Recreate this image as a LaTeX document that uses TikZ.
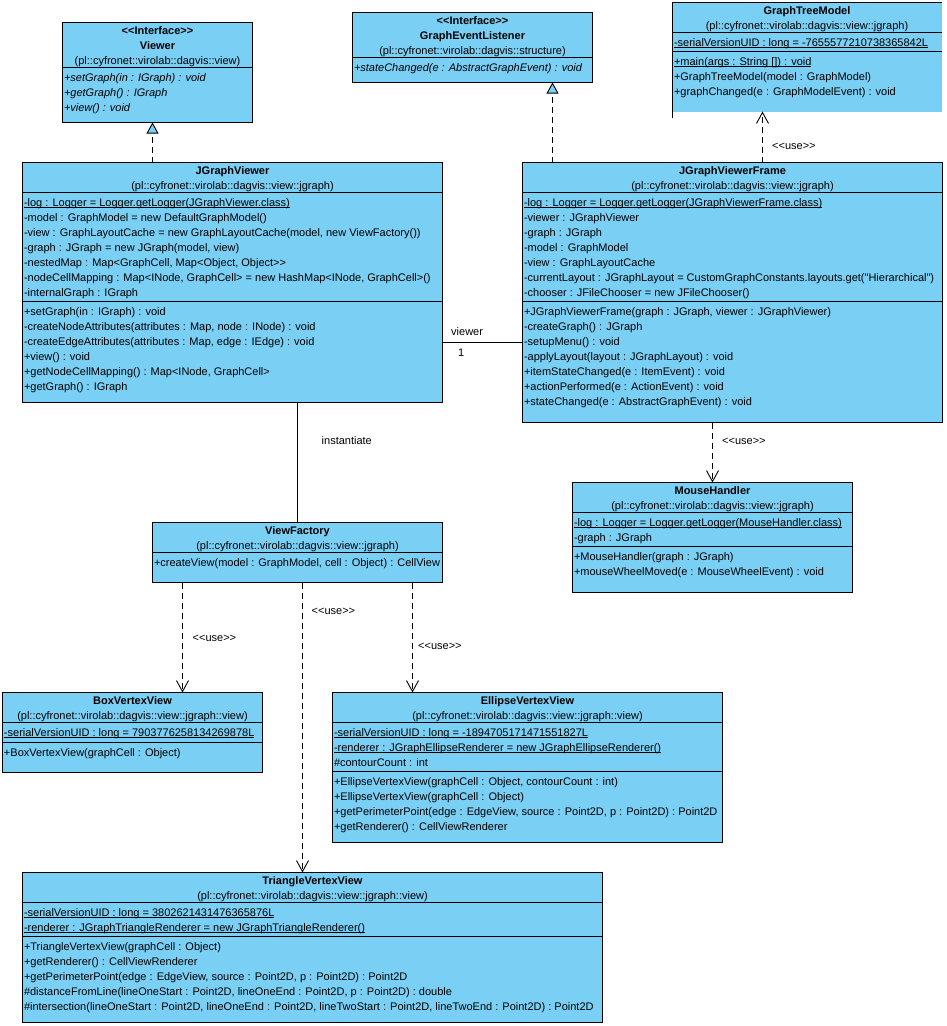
\documentclass[tikz,border=0pt]{standalone}
\usepackage{fontspec}
\setmainfont{Liberation Sans}[Ligatures={TeXOff,CommonOff}]
\usetikzlibrary{arrows.meta}
\definecolor{classblue}{RGB}{122,207,245}
\newcommand\ulx[1]{\setbox0=\hbox{#1}\rlap{\rule[-1.7pt]{\wd0}{0.75pt}}\box0}
\begin{document}
\begin{tikzpicture}[x=1pt,y=-1pt,
  every node/.style={font=\fontsize{11}{13}\selectfont},
  cbox/.style={draw=black, line width=1pt, fill=classblue, anchor=north west, inner sep=0pt, outer sep=0pt, rectangle},
  ln/.style={anchor=base west, inner sep=0pt, outer sep=0pt},
  hd/.style={anchor=base, inner sep=0pt, outer sep=0pt},
  sepl/.style={line width=1pt},
  dep/.style={line width=0.9pt, dash pattern=on 6pt off 4pt},
  real/.style={dep, -{Triangle[length=11pt,width=12pt,fill=classblue,line width=0.9pt]}},
  use/.style={dep, -{Straight Barb[length=11pt,width=12pt,line width=0.9pt]}},
  lbl/.style={anchor=base west, inner sep=0pt},
  solidc/.style={line width=1pt},
]
\useasboundingbox (0,0) rectangle (946,1026);

%% ---------------- Viewer
\node[cbox, minimum width=190pt, minimum height=100pt] (viewer) at (62.5,22.5) {};
\draw[sepl] (62.5,67.5) -- (252.5,67.5);
\node[hd] (viewer-st) at (157.5,34.5) {\textbf{<{}<Interface>{}>}};
\node[hd] (viewer-nm) at (157.5,49.5) {\textbf{Viewer}};
\node[hd] (viewer-pk) at (157.5,64.5) {(pl::cyfronet::virolab::dagvis::view)};
\node[ln] (viewer-o1) at (64,81.5) {\textit{+setGraph(in : IGraph) : void}};
\node[ln] (viewer-o2) at (64,96.5) {\textit{+getGraph() : IGraph}};
\node[ln] (viewer-o3) at (64,111.5) {\textit{+view() : void}};

%% ---------------- GraphEventListener
\node[cbox, minimum width=240pt, minimum height=70pt] (gel) at (352.5,12.5) {};
\draw[sepl] (352.5,57.5) -- (592.5,57.5);
\node[hd] (gel-st) at (472.5,24.5) {\textbf{<{}<Interface>{}>}};
\node[hd] (gel-nm) at (472.5,39.5) {\textbf{GraphEventListener}};
\node[hd] (gel-pk) at (472.5,54.5) {(pl::cyfronet::virolab::dagvis::structure)};
\node[ln] (gel-o1) at (354,71.5) {\textit{+stateChanged(e : AbstractGraphEvent) : void}};

%% ---------------- GraphTreeModel (cut at the border)
\node[cbox, draw=none, minimum width=269.5pt, minimum height=109pt] (gtm) at (672.5,2.5) {};
\draw[sepl] (672.5,118) -- (672.5,2.5) -- (942,2.5);
\draw[sepl] (672.5,32.5) -- (942,32.5);
\draw[sepl] (672.5,51) -- (942,51);
\node[hd] (gtm-nm) at (807,14.5) {\textbf{GraphTreeModel}};
\node[hd] (gtm-pk) at (807,29.5) {(pl::cyfronet::virolab::dagvis::view::jgraph)};
\node[ln] (gtm-a1) at (674,46.5) {\ulx{-serialVersionUID : long = -7655577210738365842L}};
\node[ln] (gtm-o1) at (674,65.5) {\ulx{+main(args : String []) : void}};
\node[ln] (gtm-o2) at (674,80.5) {+GraphTreeModel(model : GraphModel)};
\node[ln] (gtm-o3) at (674,95.5) {+graphChanged(e : GraphModelEvent) : void};

%% ---------------- JGraphViewer
\node[cbox, minimum width=420pt, minimum height=240pt] (jgv) at (22.5,162.5) {};
\draw[sepl] (22.5,192.5) -- (442.5,192.5);
\draw[sepl] (22.5,301) -- (442.5,301);
\node[hd] (jgv-nm) at (232.5,174.5) {\textbf{JGraphViewer}};
\node[hd] (jgv-pk) at (232.5,189.5) {(pl::cyfronet::virolab::dagvis::view::jgraph)};
\node[ln] (jgv-a1) at (24,206.5) {\ulx{-log : Logger = Logger.getLogger(JGraphViewer.class)}};
\node[ln] (jgv-a2) at (24,221.5) {-model : GraphModel = new DefaultGraphModel()};
\node[ln] (jgv-a3) at (24,236.5) {-view : GraphLayoutCache = new GraphLayoutCache(model, new ViewFactory())};
\node[ln] (jgv-a4) at (24,251.5) {-graph : JGraph = new JGraph(model, view)};
\node[ln] (jgv-a5) at (24,266.5) {-nestedMap : Map<GraphCell, Map<Object, Object>{}>};
\node[ln] (jgv-a6) at (24,281.5) {-nodeCellMapping : Map<INode, GraphCell> = new HashMap<INode, GraphCell>()};
\node[ln] (jgv-a7) at (24,296.5) {-internalGraph : IGraph};
\node[ln] (jgv-o1) at (24,315) {+setGraph(in : IGraph) : void};
\node[ln] (jgv-o2) at (24,330) {-createNodeAttributes(attributes : Map, node : INode) : void};
\node[ln] (jgv-o3) at (24,345) {-createEdgeAttributes(attributes : Map, edge : IEdge) : void};
\node[ln] (jgv-o4) at (24,360) {+view() : void};
\node[ln] (jgv-o5) at (24,375) {+getNodeCellMapping() : Map<INode, GraphCell>};
\node[ln] (jgv-o6) at (24,390) {+getGraph() : IGraph};

%% ---------------- JGraphViewerFrame
\node[cbox, minimum width=420pt, minimum height=260pt] (jgvf) at (522.5,162.5) {};
\draw[sepl] (522.5,192.5) -- (942.5,192.5);
\draw[sepl] (522.5,301) -- (942.5,301);
\node[hd] (jgvf-nm) at (732.5,174.5) {\textbf{JGraphViewerFrame}};
\node[hd] (jgvf-pk) at (732.5,189.5) {(pl::cyfronet::virolab::dagvis::view::jgraph)};
\node[ln] (jgvf-a1) at (524,206.5) {\ulx{-log : Logger = Logger.getLogger(JGraphViewerFrame.class)}};
\node[ln] (jgvf-a2) at (524,221.5) {-viewer : JGraphViewer};
\node[ln] (jgvf-a3) at (524,236.5) {-graph : JGraph};
\node[ln] (jgvf-a4) at (524,251.5) {-model : GraphModel};
\node[ln] (jgvf-a5) at (524,266.5) {-view : GraphLayoutCache};
\node[ln] (jgvf-a6) at (524,281.5) {-currentLayout : JGraphLayout = CustomGraphConstants.layouts.get("Hierarchical")};
\node[ln] (jgvf-a7) at (524,296.5) {-chooser : JFileChooser = new JFileChooser()};
\node[ln] (jgvf-o1) at (524,315) {+JGraphViewerFrame(graph : JGraph, viewer : JGraphViewer)};
\node[ln] (jgvf-o2) at (524,330) {-createGraph() : JGraph};
\node[ln] (jgvf-o3) at (524,345) {-setupMenu() : void};
\node[ln] (jgvf-o4) at (524,360) {-applyLayout(layout : JGraphLayout) : void};
\node[ln] (jgvf-o5) at (524,375) {+itemStateChanged(e : ItemEvent) : void};
\node[ln] (jgvf-o6) at (524,390) {+actionPerformed(e : ActionEvent) : void};
\node[ln] (jgvf-o7) at (524,405) {+stateChanged(e : AbstractGraphEvent) : void};

%% ---------------- MouseHandler
\node[cbox, minimum width=280pt, minimum height=110pt] (mh) at (572.5,482.5) {};
\draw[sepl] (572.5,512.5) -- (852.5,512.5);
\draw[sepl] (572.5,546) -- (852.5,546);
\node[hd] (mh-nm) at (712.5,494.5) {\textbf{MouseHandler}};
\node[hd] (mh-pk) at (712.5,509.5) {(pl::cyfronet::virolab::dagvis::view::jgraph)};
\node[ln] (mh-a1) at (574,526.5) {\ulx{-log : Logger = Logger.getLogger(MouseHandler.class)}};
\node[ln] (mh-a2) at (574,541.5) {-graph : JGraph};
\node[ln] (mh-o1) at (574,560) {+MouseHandler(graph : JGraph)};
\node[ln] (mh-o2) at (574,575) {+mouseWheelMoved(e : MouseWheelEvent) : void};

%% ---------------- ViewFactory
\node[cbox, minimum width=290pt, minimum height=60pt] (vf) at (152.5,522.5) {};
\draw[sepl] (152.5,552.5) -- (442.5,552.5);
\node[hd] (vf-nm) at (297.5,534.5) {\textbf{ViewFactory}};
\node[hd] (vf-pk) at (297.5,549.5) {(pl::cyfronet::virolab::dagvis::view::jgraph)};
\node[ln] (vf-o1) at (154,566.5) {+createView(model : GraphModel, cell : Object) : CellView};

%% ---------------- BoxVertexView
\node[cbox, minimum width=260pt, minimum height=80pt] (bvv) at (2.5,692.5) {};
\draw[sepl] (2.5,722.5) -- (262.5,722.5);
\draw[sepl] (2.5,742.5) -- (262.5,742.5);
\node[hd] (bvv-nm) at (132.5,704.5) {\textbf{BoxVertexView}};
\node[hd] (bvv-pk) at (132.5,719.5) {(pl::cyfronet::virolab::dagvis::view::jgraph::view)};
\node[ln] (bvv-a1) at (4,736.5) {\ulx{-serialVersionUID : long = 7903776258134269878L}};
\node[ln] (bvv-o1) at (4,756) {+BoxVertexView(graphCell : Object)};

%% ---------------- EllipseVertexView
\node[cbox, minimum width=390pt, minimum height=150pt] (evv) at (332.5,692.5) {};
\draw[sepl] (332.5,722.5) -- (722.5,722.5);
\draw[sepl] (332.5,771) -- (722.5,771);
\node[hd] (evv-nm) at (527.5,704.5) {\textbf{EllipseVertexView}};
\node[hd] (evv-pk) at (527.5,719.5) {(pl::cyfronet::virolab::dagvis::view::jgraph::view)};
\node[ln] (evv-a1) at (334,736.5) {\ulx{-serialVersionUID : long = -1894705171471551827L}};
\node[ln] (evv-a2) at (334,751.5) {\ulx{-renderer : JGraphEllipseRenderer = new JGraphEllipseRenderer()}};
\node[ln] (evv-a3) at (334,766.5) {\#contourCount : int};
\node[ln] (evv-o1) at (334,785) {+EllipseVertexView(graphCell : Object, contourCount : int)};
\node[ln] (evv-o2) at (334,800) {+EllipseVertexView(graphCell : Object)};
\node[ln] (evv-o3) at (334,815) {+getPerimeterPoint(edge : EdgeView, source : Point2D, p : Point2D) : Point2D};
\node[ln] (evv-o4) at (334,830) {+getRenderer() : CellViewRenderer};

%% ---------------- TriangleVertexView
\node[cbox, minimum width=580pt, minimum height=150pt] (tvv) at (22.5,872.5) {};
\draw[sepl] (22.5,902.5) -- (602.5,902.5);
\draw[sepl] (22.5,936.5) -- (602.5,936.5);
\node[hd] (tvv-nm) at (312.5,884.5) {\textbf{TriangleVertexView}};
\node[hd] (tvv-pk) at (312.5,899.5) {(pl::cyfronet::virolab::dagvis::view::jgraph::view)};
\node[ln] (tvv-a1) at (24,916.5) {\ulx{-serialVersionUID : long = 3802621431476365876L}};
\node[ln] (tvv-a2) at (24,931.5) {\ulx{-renderer : JGraphTriangleRenderer = new JGraphTriangleRenderer()}};
\node[ln] (tvv-o1) at (24,950.5) {+TriangleVertexView(graphCell : Object)};
\node[ln] (tvv-o2) at (24,965.5) {+getRenderer() : CellViewRenderer};
\node[ln] (tvv-o3) at (24,980.5) {+getPerimeterPoint(edge : EdgeView, source : Point2D, p : Point2D) : Point2D};
\node[ln] (tvv-o4) at (24,995.5) {\#distanceFromLine(lineOneStart : Point2D, lineOneEnd : Point2D, p : Point2D) : double};
\node[ln] (tvv-o5) at (24,1010.5) {\#intersection(lineOneStart : Point2D, lineOneEnd : Point2D, lineTwoStart : Point2D, lineTwoEnd : Point2D) : Point2D};

%% ---------------- Connectors
% realizations
\draw[real] (152.5,0 |- jgv.north) -- (152.5,0 |- viewer.south);
\draw[real] (552.5,0 |- jgvf.north) -- (552.5,0 |- gel.south);
% use dependencies
\draw[use] (762.5,0 |- jgvf.north) -- (762.5,0 |- gtm.south);
\node[lbl] (l-use1) at (772,149) {<{}<use>{}>};
\draw[use] (712.5,0 |- jgvf.south) -- (712.5,0 |- mh.north);
\node[lbl] (l-use2) at (722,444.5) {<{}<use>{}>};
\draw[use] (182.5,0 |- vf.south) -- (182.5,0 |- bvv.north);
\node[lbl] (l-use3) at (192.5,641.5) {<{}<use>{}>};
\draw[use] (302.5,0 |- vf.south) -- (302.5,0 |- tvv.north);
\node[lbl] (l-use4) at (311.5,614.5) {<{}<use>{}>};
\draw[use] (412.5,0 |- vf.south) -- (412.5,0 |- evv.north);
\node[lbl] (l-use5) at (418,649) {<{}<use>{}>};
% association
\draw[solidc] (jgv.east |- 0,342.5) -- (jgvf.west |- 0,342.5);
\node[lbl] (l-viewer) at (451,335.5) {viewer};
\node[lbl] (l-one) at (458,356) {1};
% instantiate
\draw[solidc] (297.5,0 |- jgv.south) -- (297.5,0 |- vf.north);
\node[lbl] (l-inst) at (321.5,444) {instantiate};
\end{tikzpicture}
\end{document}
